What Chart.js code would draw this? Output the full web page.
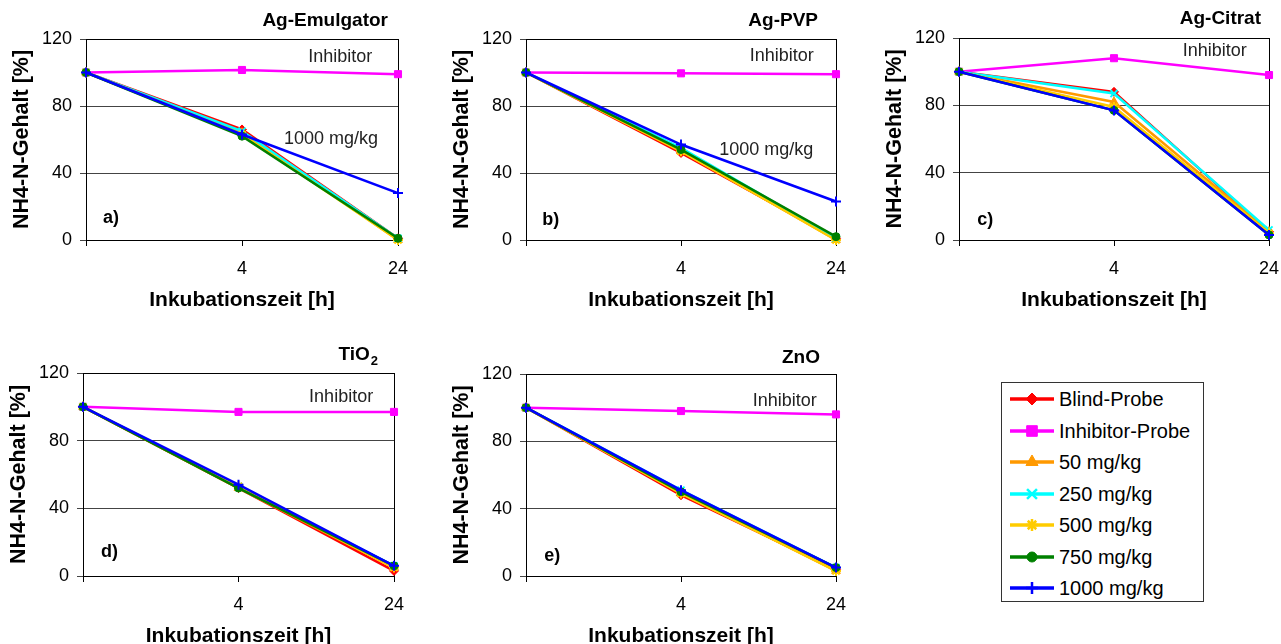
<!DOCTYPE html>
<html>
<head>
<meta charset="utf-8">
<script src="https://cdn.jsdelivr.net/npm/chart.js@4.4.1/dist/chart.umd.min.js"></script>
<style>
    html, body { margin: 0; padding: 0; background: #fff; overflow: hidden; width: 1281px; height: 644px; }
    canvas.panel { position: absolute; }
    #legend {
        position: absolute; left: 1001px; top: 382px; width: 201px; height: 218px;
        border: 1px solid #333; font-family: "Liberation Sans", Arial, sans-serif; font-size: 20px; color: #000;
    }
    #legend .row { position: absolute; left: 0; height: 30px; }
    #legend .row canvas { position: absolute; left: 0; top: 0; }
    #legend .row span { position: absolute; left: 57px; top: 3px; white-space: nowrap; line-height: 24px; }
</style>
</head>
<body>
<canvas id="panelA" class="panel" width="425" height="320" style="left:0;top:0"></canvas>
<canvas id="panelB" class="panel" width="425" height="320" style="left:430px;top:0"></canvas>
<canvas id="panelC" class="panel" width="421" height="320" style="left:860px;top:0"></canvas>
<canvas id="panelD" class="panel" width="425" height="340" style="left:0;top:320px"></canvas>
<canvas id="panelE" class="panel" width="425" height="340" style="left:430px;top:320px"></canvas>
<div id="legend"></div>

<script>
// x categories: 0 h (unlabelled), 4 h, 24 h
const timeLabels = ['', '4', '24'];
const seriesNames = ['Blind-Probe', 'Inhibitor-Probe', '50 mg/kg', '250 mg/kg', '500 mg/kg', '750 mg/kg', '1000 mg/kg'];
const yTicks = [0, 40, 80, 120];

// values per panel, one row per series (same order as seriesNames)
const agEmulgator = [
    [100, 66, 1],
    [100, 101.5, 99],
    [100, 64, 0],
    [100, 65, 1],
    [100, 63, 0],
    [100, 62, 1],
    [100, 63, 28]
];
const agPVP = [
    [100, 52, 1],
    [100, 99.5, 99],
    [100, 53, 0],
    [100, 55, 1],
    [100, 53, 0],
    [100, 54, 2],
    [100, 57, 23]
];
const agCitrat = [
    [100, 88, 5],
    [100, 108, 98],
    [100, 82, 5],
    [100, 87, 6],
    [100, 79, 4],
    [100, 77, 3],
    [100, 77, 3]
];
const tiO2 = [
    [100, 52, 3],
    [100, 97, 97],
    [100, 52, 5],
    [100, 53, 6],
    [100, 53, 5],
    [100, 52, 6],
    [100, 54, 6]
];
const znO = [
    [100, 48, 4],
    [100, 98, 96],
    [100, 49, 3],
    [100, 51, 5],
    [100, 49, 3],
    [100, 50, 5],
    [100, 51, 5]
];

const FONT = '"Liberation Sans", Arial, sans-serif';
Chart.defaults.font.family = FONT;

const seriesColors = ['#ff0000', '#ff00ff', '#ff9900', '#00ffff', '#ffcc00', '#008000', '#0000ff'];
const pointStyles = ['rectRot', 'rect', 'triangle', 'crossRot', 'star', 'circle', 'cross'];
const pointRadii = [4.5, 5, 5, 5, 5, 4, 5];

const framePlugin = {
    id: 'frame',
    beforeDatasetsDraw(chart) {
        const { ctx, chartArea: a } = chart;
        ctx.save();
        ctx.strokeStyle = '#000';
        ctx.lineWidth = 1;
        ctx.strokeRect(Math.round(a.left) + 0.5, Math.round(a.top) + 0.5,
            Math.round(a.right - a.left), Math.round(a.bottom - a.top));
        ctx.restore();
    }
};

function notesPlugin(cfg) {
    return {
        id: 'notes',
        afterDraw(chart) {
            const { ctx, chartArea: a, scales } = chart;
            ctx.save();
            ctx.textBaseline = 'middle';

            // panel title, right aligned above the plot
            ctx.fillStyle = '#000';
            ctx.font = 'bold 19px ' + FONT;
            ctx.textAlign = 'right';
            let x = a.right - cfg.titleOffset[0];
            const ty = a.top - cfg.titleOffset[1];
            if (cfg.sub) {
                ctx.font = 'bold 13px ' + FONT;
                ctx.fillText(cfg.sub, x, ty + 6);
                x -= ctx.measureText(cfg.sub).width + 1;
                ctx.font = 'bold 19px ' + FONT;
            }
            ctx.fillText(cfg.title, x, ty);

            // panel letter
            ctx.font = 'bold 18px ' + FONT;
            ctx.textAlign = 'center';
            ctx.fillText(cfg.letter[0], scales.x.getPixelForValue(cfg.letter[1]), scales.y.getPixelForValue(cfg.letter[2]));

            // series notes
            ctx.font = '18px ' + FONT;
            ctx.fillStyle = '#222';
            cfg.notes.forEach(n => {
                ctx.fillText(n[0], scales.x.getPixelForValue(n[1]), scales.y.getPixelForValue(n[2]));
            });
            ctx.restore();
        }
    };
}

function makePanel(cfg) {
    const canvas = document.getElementById(cfg.id);
    const W = canvas.width, H = canvas.height;
    const area = cfg.area;

    new Chart(canvas, {
        type: 'line',
        data: {
            labels: timeLabels,
            datasets: seriesNames.map((name, i) => ({
                label: name,
                data: cfg.values[i],
                order: seriesNames.length - i, // later series drawn on top, like the original
                borderColor: seriesColors[i],
                backgroundColor: seriesColors[i],
                pointBorderColor: seriesColors[i],
                pointBackgroundColor: seriesColors[i],
                pointStyle: pointStyles[i],
                pointRadius: pointRadii[i],
                pointBorderWidth: (i === 3 || i === 4 || i === 6) ? 2 : 1,
                borderWidth: 2.5,
                tension: 0,
                clip: false
            }))
        },
        options: {
            responsive: false,
            animation: false,
            events: [],
            layout: { padding: { left: 0, top: area.top, right: W - area.right, bottom: 0 } },
            plugins: { legend: { display: false }, tooltip: { enabled: false } },
            scales: {
                x: {
                    offset: false,
                    grid: { drawOnChartArea: false, drawTicks: true, tickLength: 6, color: '#000' },
                    border: { color: '#000' },
                    ticks: { color: '#000', font: { size: 18 }, padding: 12, maxRotation: 0, autoSkip: false },
                    title: {
                        display: true, text: 'Inkubationszeit [h]', color: '#000',
                        font: { size: 21, weight: 'bold' },
                        padding: { top: 0, bottom: H - area.bottom - 60 - 12.6 }
                    },
                    afterFit: s => {
                        s.height = H - area.bottom;
                        s.paddingLeft = 0;
                        s.paddingRight = 0;
                    }
                },
                y: {
                    min: 0,
                    max: 120,
                    afterBuildTicks: s => { s.ticks = yTicks.map(v => ({ value: v })); },
                    grid: { color: '#444', tickLength: 6, drawTicks: true },
                    border: { color: '#000' },
                    ticks: { color: '#000', font: { size: 18 }, padding: 8 },
                    title: {
                        display: true, text: 'NH4-N-Gehalt [%]', color: '#000',
                        font: { size: 21.5, weight: 'bold' },
                        padding: { top: area.left - 64 - 12.9, bottom: 0 }
                    },
                    afterFit: s => {
                        s.width = area.left;
                        s.paddingTop = 0;
                        s.paddingBottom = 0;
                    }
                }
            }
        },
        plugins: [framePlugin, notesPlugin(cfg)]
    });
}

makePanel({
    id: 'panelA', values: agEmulgator, title: 'Ag-Emulgator', titleOffset: [10, 18],
    area: { left: 86, top: 39, right: 398, bottom: 240 },
    letter: ['a)', 0.16, 13],
    notes: [['Inhibitor', 1.63, 109], ['1000 mg/kg', 1.57, 60]]
});
makePanel({
    id: 'panelB', values: agPVP, title: 'Ag-PVP', titleOffset: [18, 18],
    area: { left: 96, top: 39, right: 406, bottom: 240 },
    letter: ['b)', 0.16, 12],
    notes: [['Inhibitor', 1.65, 110], ['1000 mg/kg', 1.55, 54]]
});
makePanel({
    id: 'panelC', values: agCitrat, title: 'Ag-Citrat', titleOffset: [8, 19],
    area: { left: 99, top: 38, right: 409, bottom: 240 },
    letter: ['c)', 0.17, 12],
    notes: [['Inhibitor', 1.65, 112]]
});
makePanel({
    id: 'panelD', values: tiO2, title: 'TiO', sub: '2', titleOffset: [16, 18],
    area: { left: 83, top: 53, right: 394, bottom: 256 },
    letter: ['d)', 0.17, 14],
    notes: [['Inhibitor', 1.66, 106]]
});
makePanel({
    id: 'panelE', values: znO, title: 'ZnO', titleOffset: [16, 16],
    area: { left: 96, top: 54, right: 406, bottom: 256 },
    letter: ['e)', 0.17, 12],
    notes: [['Inhibitor', 1.67, 104]]
});

// legend box: line segment with marker, then the series name
(function renderLegend() {
    const box = document.getElementById('legend');
    const legendRadii = [6, 7.5, 7, 7, 6, 5, 6];
    seriesNames.forEach((name, i) => {
        const row = document.createElement('div');
        row.className = 'row';
        row.style.top = (1 + i * 31.5) + 'px';
        row.style.width = '200px';
        const c = document.createElement('canvas');
        c.width = 56; c.height = 30;
        row.appendChild(c);
        const span = document.createElement('span');
        span.textContent = name;
        row.appendChild(span);
        box.appendChild(row);

        const ctx = c.getContext('2d');
        ctx.strokeStyle = seriesColors[i];
        ctx.fillStyle = seriesColors[i];
        ctx.lineWidth = 3.5;
        ctx.beginPath();
        ctx.moveTo(8, 15);
        ctx.lineTo(52, 15);
        ctx.stroke();
        ctx.lineWidth = (i === 3 || i === 4 || i === 6) ? 2.5 : 1;
        if (Chart.helpers && Chart.helpers.drawPoint) {
            Chart.helpers.drawPoint(ctx, {
                pointStyle: pointStyles[i],
                radius: legendRadii[i],
                rotation: 0,
                borderWidth: ctx.lineWidth
            }, 30, 15);
        }
    });
})();
</script>
</body>
</html>
